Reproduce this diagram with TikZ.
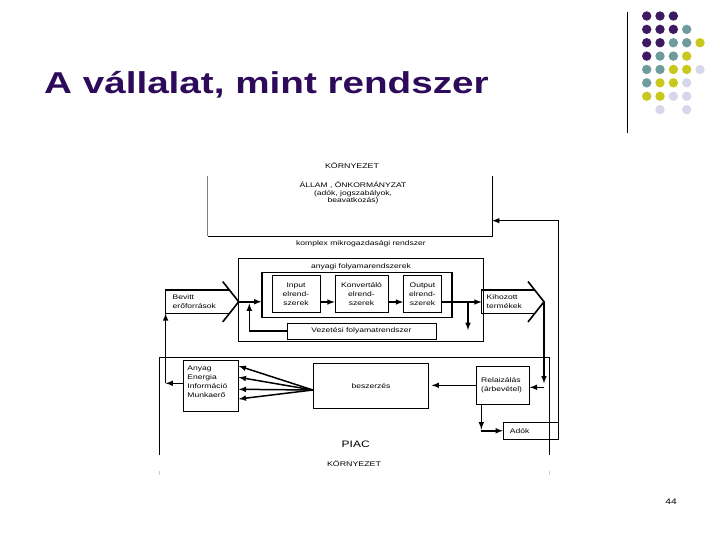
\documentclass[tikz,border=0pt]{standalone}
\usepackage{fontspec}
\setmainfont{Liberation Sans}
\newfontfamily\szeles[FakeStretch=1.28]{Liberation Sans}

\definecolor{cimlila}{RGB}{45,10,90}
\definecolor{lila}{RGB}{62,26,98}
\definecolor{zoldeskek}{RGB}{110,155,155}
\definecolor{sarga}{RGB}{200,200,30}
\definecolor{halvany}{RGB}{215,215,235}

\begin{document}
\begin{tikzpicture}[x=1bp, y=-1bp,
    doboz/.style={draw, line width=0.8bp, inner sep=0pt, align=center, font=\szeles\fontsize{6.7}{9.2}\selectfont},
    felirat/.style={inner sep=0pt, align=center, font=\szeles\fontsize{6.7}{7.4}\selectfont},
    nyil/.style={-latex, line width=1.5bp},
    vastag/.style={line width=1.6bp}]
    \useasboundingbox (0,0) rectangle (720,540);

    % Cim es dekoracio
    \node[anchor=base west, inner sep=0pt, text=cimlila, font=\szeles\bfseries\fontsize{30.3}{34}\selectfont] (cim) at (44,93.3) {A vállalat, mint rendszer};
    \draw[line width=0.8bp] (627,12) -- (627,133);
    \foreach \s/\szinek in {0/{lila,lila,lila}, 1/{lila,lila,lila,zoldeskek}, 2/{lila,lila,zoldeskek,zoldeskek,sarga},
        3/{lila,zoldeskek,zoldeskek,sarga}, 4/{zoldeskek,zoldeskek,sarga,sarga,halvany},
        5/{zoldeskek,sarga,sarga,halvany}, 6/{sarga,sarga,halvany,halvany}}
        \foreach \szin [count=\o from 0] in \szinek
            \fill[\szin] (646.7+13.33*\o, 16+13.37*\s) circle (4.7bp);
    \fill[halvany] (660,109.6) circle (4.7bp);
    \fill[halvany] (686.7,109.6) circle (4.7bp);

    % Allam, onkormanyzat
    \node[felirat, font=\szeles\fontsize{6.9}{8}\selectfont] (kornyezetfent) at (352,166) {KÖRNYEZET};
    \node[minimum width=284bp, minimum height=60bp, inner sep=0pt] (allam) at (350,206) {};
    \draw[gray, line width=0.8bp] (allam.north west) -- (allam.south west);
    \draw[line width=0.8bp] (allam.south west) -- (allam.south east) -- (allam.north east);
    \node[felirat] (allamszoveg) at (353,193) {ÁLLAM , ÖNKORMÁNYZAT\\(adók, jogszabályok,\\beavatkozás)};
    \coordinate (allambe) at ([shift={(0,14.7)}]allam.east);

    % Komplex mikrogazdasagi rendszer
    \node[felirat] (komplex) at (361,244) {komplex mikrogazdasági rendszer};
    \node[doboz, minimum width=245bp, minimum height=83bp] (rendszer) at (360.5,299.5) {};
    \node[felirat] (anyagi) at (361,266.5) {anyagi folyamarendszerek};
    \node[doboz, line width=1.3bp, minimum width=190bp, minimum height=45bp] (folyamat) at (357,295) {};
    \node[doboz, minimum width=48bp, minimum height=37bp] (input) at (296,294) {Input\\elrend-\\szerek};
    \node[doboz, minimum width=53bp, minimum height=37bp] (konv) at (361.5,294) {Konvertáló\\elrend-\\szerek};
    \node[doboz, minimum width=38bp, minimum height=37bp] (output) at (422.5,294) {Output\\elrend-\\szerek};
    \node[doboz, minimum width=149bp, minimum height=16bp] (vezetes) at (361.5,331) {Vezetési folyamatrendszer};

    % Bevitt eroforrasok / Kihozott termekek
    \node[doboz, draw=none, align=left, minimum height=22.5bp, inner xsep=6.7bp, text width=50bp] (bevitt) at (197.7,301.75) {Bevitt\\erőforrások};
    \draw[vastag] (bevitt.north east) -- (bevitt.north west) -- (bevitt.south west) -- (bevitt.south east);
    \coordinate (bevittcsucs) at ([xshift=8.9bp]bevitt.east);
    \draw[vastag] ([shift={(-7.1,-20.2)}]bevitt.east) -- (bevittcsucs) -- ([shift={(-7.1,20.2)}]bevitt.east);

    \node[doboz, draw=none, align=left, minimum height=22.5bp, inner xsep=4.7bp, text width=43.3bp] (kihozott) at (508.35,301.75) {Kihozott\\termékek};
    \draw[vastag] (kihozott.north east) -- (kihozott.north west) -- (kihozott.south west) -- (kihozott.south east);
    \coordinate (kihozottcsucs) at ([xshift=8.9bp]kihozott.east);
    \draw[vastag] ([shift={(-7.1,-20.2)}]kihozott.east) -- (kihozottcsucs) -- ([shift={(-7.1,20.2)}]kihozott.east);

    % Belso nyilak
    \coordinate (sor) at (0,302);
    \coordinate (elagazas) at (468,302);
    \coordinate (visszateres) at (249.3,302);
    \draw[nyil] (bevittcsucs) -- (folyamat.west |- bevittcsucs);
    \draw[nyil] (input.east |- sor) -- (konv.west |- sor);
    \draw[nyil] (konv.east |- sor) -- (output.west |- sor);
    \draw[nyil] (output.east |- sor) -- (kihozott.west |- sor);
    \draw[nyil] (elagazas) -- ([shift={(0,-1)}]elagazas |- vezetes.east);
    \draw[nyil, shorten >=1.5bp] (vezetes.west) -| (visszateres);

    % Piac
    \draw[line width=0.8bp] (159.3,455) |- (549.3,357) -- (549.3,455);
    \draw[gray!40, line width=0.6bp] (159.3,471) -- (159.3,475) (549.3,471) -- (549.3,475);
    \node[felirat, font=\szeles\fontsize{9.4}{11}\selectfont] (piac) at (355.7,444) {PIAC};
    \node[felirat, font=\szeles\fontsize{6.9}{8}\selectfont] (kornyezetlent) at (354,463.3) {KÖRNYEZET};

    \node[doboz, minimum width=55bp, minimum height=51.7bp] (anyag) at (210.8,385.8) {};
    \node[doboz, draw=none, anchor=north west, align=left] (anyagszoveg) at (187,365.5) {Anyag\\Energia\\Információ\\Munkaerő};
    \node[doboz, minimum width=115.5bp, minimum height=45bp] (beszerzes) at (371,385.8) {beszerzés};
    \node[doboz, align=left, minimum width=53.3bp, minimum height=37.3bp, text width=43bp, inner xsep=5.15bp] (relaiz) at (502.7,385.3) {Relaizálás\\(árbevétel)};
    \node[doboz, align=left, minimum width=55bp, minimum height=16.3bp, text width=42bp, inner xsep=6.5bp] (adok) at (530.8,430.8) {Adók};

    % Kulso nyilak
    \foreach \dy in {-19.8,-8.5,3.5,13.2}
        \draw[nyil] ([shift={(0,4.2)}]beszerzes.west) -- ([shift={(0,\dy)}]anyag.east);
    \draw[nyil, shorten >=2.5bp] (relaiz.west) -- (beszerzes.east |- relaiz.west);
    \coordinate (jobbsarok) at (kihozottcsucs |- relaiz.east);
    \draw[nyil] (kihozottcsucs) -- ([shift={(0,-2)}]jobbsarok);
    \draw[nyil] ([shift={(0,2)}]jobbsarok) -- ([shift={(0,2)}]relaiz.east);
    \coordinate (anyagki) at ([shift={(0,-2.5)}]anyag.west);
    \coordinate (balsarok) at (bevitt.south west |- anyagki);
    \draw[nyil] (anyagki) -- (balsarok);
    \draw[nyil] (balsarok) -- (bevitt.south west);
    \coordinate (relaizle) at ([xshift=5.7bp]relaiz.south west);
    \coordinate (adosarok) at (relaizle |- adok.west);
    \draw[nyil] (relaizle) -- ([shift={(0,-1.4)}]adosarok);
    \draw[nyil] (adosarok) -- (adok.west);
    \draw[nyil] (adok.south east) -- (adok.south east |- allambe) -- (allambe);

    % Oldalszam
    \node[felirat, font=\szeles\fontsize{8}{9}\selectfont] (oldalszam) at (671,502) {44};
\end{tikzpicture}
\end{document}
